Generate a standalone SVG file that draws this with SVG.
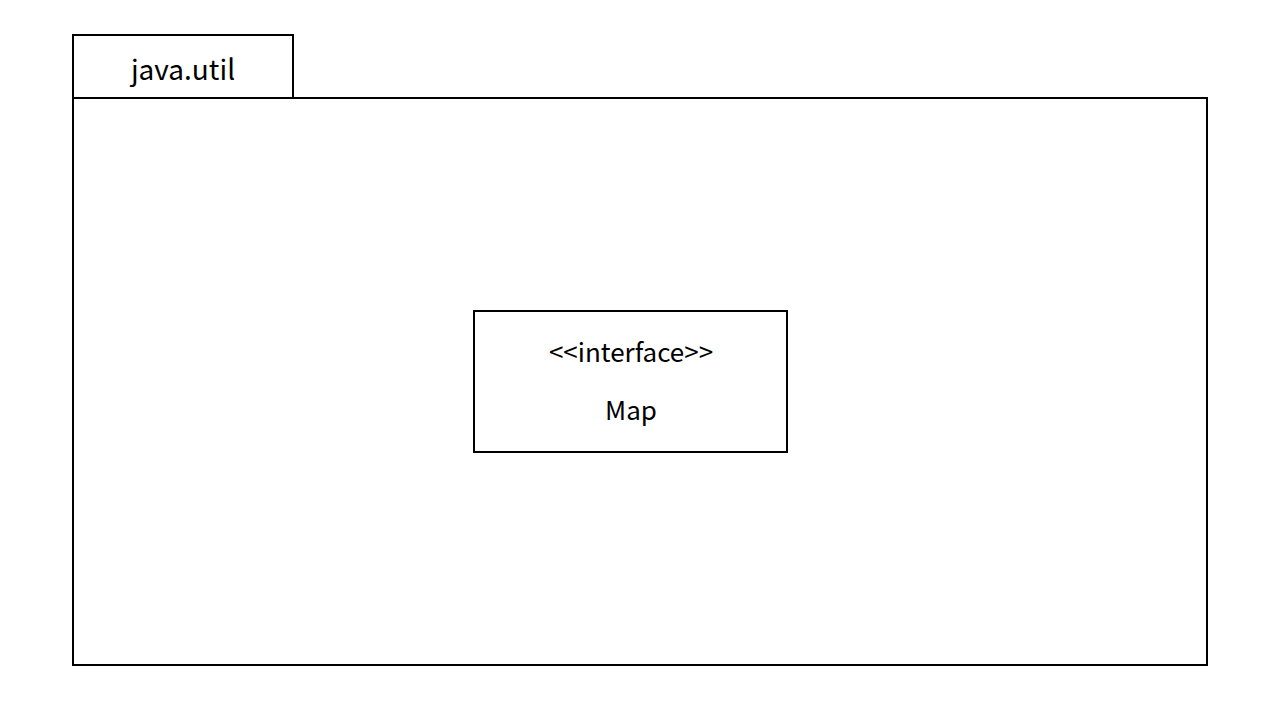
<svg xmlns="http://www.w3.org/2000/svg" width="1280" height="720" viewBox="0 0 1280 720">
<style>
.b{fill:#fff;stroke:#000;stroke-width:2}
text{font-family:"Noto Sans CJK SC","Noto Sans",sans-serif;fill:#000;text-anchor:middle}
</style>
<rect width="1280" height="720" fill="#fff"/>
<g id="package">
<rect class="b" x="73" y="35" width="220" height="63"/>
<rect class="b" x="73" y="98" width="1134" height="567"/>
<text x="183" y="80" font-size="28">java.util</text>
</g>
<g id="map">
<rect class="b" x="474" y="311" width="313" height="141"/>
<text x="631" y="362" font-size="26">&lt;&lt;interface&gt;&gt;</text>
<text x="631" y="420" font-size="26">Map</text>
</g>
<g id="connectors"/>
</svg>
